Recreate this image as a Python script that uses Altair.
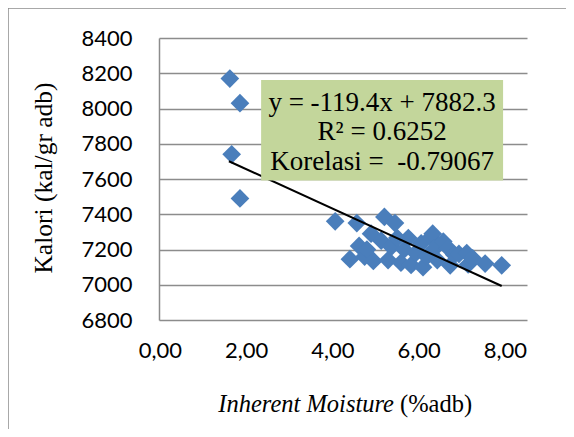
import altair as alt
import pandas as pd

# ---- data ----
moisture = [1.54, 1.76, 1.58, 1.76, 3.83, 4.30, 4.15, 4.35, 4.47, 4.61,
            4.52, 4.66, 4.83, 4.90, 5.13, 4.98, 5.05, 5.18, 5.26, 5.33,
            5.42, 5.48, 5.58, 5.70, 5.74, 5.82, 5.91, 5.95, 5.99, 6.05,
            6.18, 6.28, 6.33, 6.42, 6.52, 6.69, 6.72, 6.82, 7.09, 7.45]
kalori = [8170, 8030, 7740, 7490, 7360, 7350, 7145, 7220, 7160, 7290,
          7200, 7135, 7250, 7385, 7350, 7140, 7215, 7265, 7125, 7200,
          7265, 7112, 7180, 7235, 7100, 7160, 7270, 7290, 7205, 7140,
          7245, 7210, 7110, 7170, 7175, 7180, 7115, 7150, 7120, 7110]

trend_x = [1.52, 7.45]
trend_y = [7700.8, 6992.8]

x_ticks = [0, 2, 4, 6, 8]
y_ticks = [6800, 7000, 7200, 7400, 7600, 7800, 8000, 8200, 8400]

note_lines = ["y = -119.4x + 7882.3", "R² = 0.6252", "Korelasi =\u00a0\u00a0-0.79067"]
note_y = [8031, 7868, 7698]
note_x = [4.85, 4.85, 4.85]
box_x = [2.22, 7.48]
box_y = [7591, 8162]

x_title_italic = "Inherent Moisture"
x_title_plain = "(%adb)"
y_title = "Kalori (kal/gr adb)"

# ---- tables ----
pts = pd.DataFrame({"x": moisture, "y": kalori})
trend = pd.DataFrame({"x": trend_x, "y": trend_y})
notes = pd.DataFrame({"x": note_x, "y": note_y, "t": note_lines})
box = pd.DataFrame({"x": [box_x[0]], "x2": [box_x[1]], "y": [box_y[0]], "y2": [box_y[1]]})
one = pd.DataFrame({"a": [0]})

W, H = 368, 282
GRID = "#8c8c8c"
SERIF = "Liberation Serif"
SANS = "Lato"

x_scale = alt.Scale(domain=[0, 8], nice=False, zero=False)
y_scale = alt.Scale(domain=[6800, 8400], nice=False, zero=False)

x_axis = alt.Axis(values=x_ticks, labelExpr="replace(format(datum.value, '.2f'), '.', ',')",
                  title=None, grid=False, domain=False, ticks=False, labelFlush=False,
                  labelOverlap=False,
                  labelOffset=alt.ExprRef(expr="1 - 2.875 * datum.value"),
                  labelFont=SANS, labelFontSize=22, labelColor="black", labelPadding=20)
y_axis = alt.Axis(values=y_ticks, format="d", title=None, grid=True, gridColor=GRID,
                  gridWidth=1.5, domain=True, domainColor=GRID, domainWidth=1.5,
                  ticks=False, labelOverlap=False, labelFlush=False, labelBound=False,
                  labelFont=SANS, labelFontSize=22, labelColor="black",
                  labelPadding=27)

border = alt.Chart(one).mark_rect(fill="white", fillOpacity=0, stroke=GRID, strokeWidth=1.5).encode(
    x=alt.value(-151), x2=alt.value(900), y=alt.value(-30), y2=alt.value(900))

points = alt.Chart(pts).mark_point(shape="diamond", filled=True, size=350, opacity=1,
                                   color="#4A7EBB").encode(
    x=alt.X("x:Q", scale=x_scale, axis=x_axis),
    y=alt.Y("y:Q", scale=y_scale, axis=y_axis))

line = alt.Chart(trend).mark_line(color="black", strokeWidth=2).encode(
    x=alt.X("x:Q", scale=x_scale, axis=x_axis), y=alt.Y("y:Q", scale=y_scale, axis=y_axis))

note_box = alt.Chart(box).mark_rect(color="#C3D69B").encode(
    x=alt.X("x:Q", scale=x_scale, axis=x_axis), x2="x2:Q",
    y=alt.Y("y:Q", scale=y_scale, axis=y_axis), y2="y2:Q")

note_text = alt.Chart(notes).mark_text(font=SERIF, fontSize=27, color="black",
                                       align="center", baseline="middle").encode(
    x=alt.X("x:Q", scale=x_scale, axis=x_axis), y=alt.Y("y:Q", scale=y_scale, axis=y_axis),
    text="t:N")

xt1 = alt.Chart(one).mark_text(text=x_title_italic, font=SERIF, fontSize=24.5, fontStyle="italic",
                               align="right", baseline="middle", color="black").encode(
    x=alt.value(235), y=alt.value(367))
xt2 = alt.Chart(one).mark_text(text=x_title_plain, font=SERIF, fontSize=24.5,
                               align="left", baseline="middle", color="black").encode(
    x=alt.value(241), y=alt.value(367))
yt = alt.Chart(one).mark_text(text=y_title, font=SERIF, fontSize=25.5, angle=270,
                              align="center", baseline="middle", color="black").encode(
    x=alt.value(-115), y=alt.value(140))

chart = alt.layer(border, points, line, note_box, note_text, xt1, xt2, yt).properties(
    width=W, height=H,
    background="white",
    autosize=alt.AutoSizeParams(type="none"),
    padding={"left": 151, "top": 30, "right": 39, "bottom": 109},
).configure_view(strokeOpacity=0, strokeWidth=0).configure_axis(labelOverlap=False)

chart.save("out.html", embed_options={"renderer": "svg", "actions": False})
